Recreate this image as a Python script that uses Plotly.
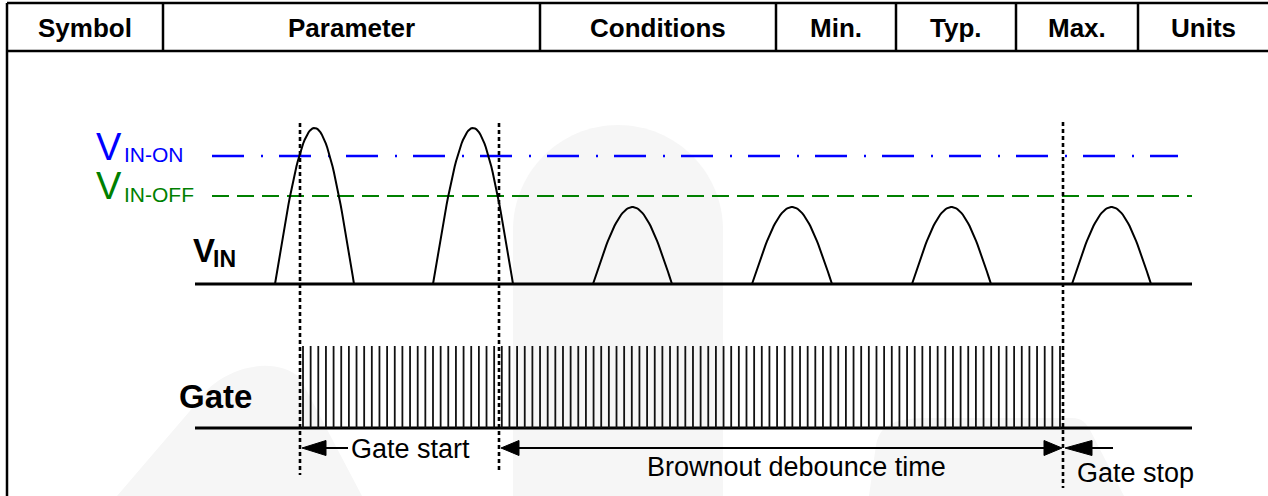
import numpy as np
import plotly.graph_objects as go

W, H = 1268, 496
FONT = "Liberation Sans, Arial, sans-serif"

# ---- table header ----
header_labels = ["Symbol", "Parameter", "Conditions", "Min.", "Typ.", "Max.", "Units"]
column_edges = [7, 163, 540, 776, 896, 1016, 1138, 1268]
header_top, header_bottom = 3, 51

# ---- V_IN waveform (time axis in drawing units) ----
vin_pulse_start = [275, 433, 593, 752, 912, 1072]
vin_pulse_end = [354, 513, 672, 832, 991, 1151]
vin_pulse_peak = [128, 128, 207, 207, 207, 207]
vin_baseline = 284
trace_x = [195, 1192]

# ---- thresholds ----
vin_on_level = 156
vin_off_level = 196
vin_on_x = [212, 1178]
vin_off_x = [212, 1192]

# ---- gate drive ----
gate_baseline = 428
gate_high = 346
gate_first_edge = 303
gate_last_edge = 1060
gate_pulse_count = 100

# ---- event markers (dotted) ----
marker_x = [300, 499, 1063]
marker_top = [123, 123, 122]
marker_bottom = [475, 472, 488]

# ---- timing arrows: (tip_left, tip_right, head_left, head_right, head_len) ----
arrow_y = 448
arrow_defs = [
    (302, 348, True, False, 24),
    (501, 1062, True, True, 18),
    (1065, 1113, True, False, 27),
]
arrow_labels = ["Gate start", "Brownout debounce time", "Gate stop"]
arrow_label_x = [349, 796, 1135]
arrow_label_y = [449, 467, 473]
arrow_label_anchor = ["left", "center", "center"]

fig = go.Figure()

# background watermark shapes
wm = "#f6f6f6"
shapes = [
    dict(type="path", layer="below", fillcolor=wm, line=dict(width=0),
         path="M 513,496 L 513,230 C 513,172 560,125 618,125 C 676,125 723,172 723,230 L 723,496 Z"),
    dict(type="path", layer="below", fillcolor=wm, line=dict(width=0),
         path="M 117,496 L 195,405 C 220,365 275,355 300,378 L 362,496 Z"),
    dict(type="path", layer="below", fillcolor=wm, line=dict(width=0),
         path="M 869,496 L 876,445 C 880,422 900,418 930,418 L 1072,418 C 1082,418 1086,423 1090,430 L 1124,496 Z"),
]

# table lines
lw_tab = 2.5
shapes.append(dict(type="line", x0=column_edges[0], x1=W, y0=header_top, y1=header_top,
                   line=dict(color="black", width=lw_tab)))
shapes.append(dict(type="line", x0=column_edges[0], x1=W, y0=header_bottom, y1=header_bottom,
                   line=dict(color="black", width=lw_tab)))
shapes.append(dict(type="line", x0=column_edges[0], x1=column_edges[0], y0=header_top, y1=H,
                   line=dict(color="black", width=lw_tab)))
for xe in column_edges[1:-1]:
    shapes.append(dict(type="line", x0=xe, x1=xe, y0=header_top, y1=header_bottom,
                       line=dict(color="black", width=lw_tab)))

annotations = []
for i, lab in enumerate(header_labels):
    xc = (column_edges[i] + column_edges[i + 1]) / 2
    annotations.append(dict(x=xc, y=28, text="<b>%s</b>" % lab, showarrow=False,
                            xanchor="center", yanchor="middle",
                            font=dict(family=FONT, size=26, color="black")))

# threshold lines
fig.add_trace(go.Scatter(x=vin_on_x, y=[vin_on_level] * 2, mode="lines",
                         line=dict(color="#0000ff", width=2.5, dash="32px,17px,2px,16px"),
                         hoverinfo="skip"))
fig.add_trace(go.Scatter(x=vin_off_x, y=[vin_off_level] * 2, mode="lines",
                         line=dict(color="#008000", width=2.2, dash="17px,8px"),
                         hoverinfo="skip"))

# V_IN baseline and pulses
fig.add_trace(go.Scatter(x=trace_x, y=[vin_baseline] * 2, mode="lines",
                         line=dict(color="black", width=3), hoverinfo="skip"))
px, py = [], []
for s, e, pk in zip(vin_pulse_start, vin_pulse_end, vin_pulse_peak):
    t = np.linspace(0, 1, 60)
    px += list(s + (e - s) * t) + [None]
    py += list(vin_baseline - (vin_baseline - pk) * np.sin(np.pi * t)) + [None]
fig.add_trace(go.Scatter(x=px, y=py, mode="lines", line=dict(color="black", width=2),
                         hoverinfo="skip"))

# Gate baseline and pulse train
fig.add_trace(go.Scatter(x=trace_x, y=[gate_baseline] * 2, mode="lines",
                         line=dict(color="black", width=3), hoverinfo="skip"))
edges = np.linspace(gate_first_edge, gate_last_edge, gate_pulse_count)
gx, gy = [], []
for xe in edges:
    gx += [xe, xe, None]
    gy += [gate_baseline, gate_high, None]
fig.add_trace(go.Scatter(x=gx, y=gy, mode="lines", line=dict(color="#111111", width=1.8),
                         hoverinfo="skip"))

# dotted event markers
for xm, t0, t1 in zip(marker_x, marker_top, marker_bottom):
    fig.add_trace(go.Scatter(x=[xm, xm], y=[t0, t1], mode="lines",
                             line=dict(color="black", width=2.6, dash="4px,3px"),
                             hoverinfo="skip"))

# arrows
half_h = 7.5
for (xl, xr, hl, hr, hlen) in arrow_defs:
    fig.add_trace(go.Scatter(x=[xl + (hlen if hl else 0), xr - (hlen if hr else 0)],
                             y=[arrow_y, arrow_y], mode="lines",
                             line=dict(color="black", width=2), hoverinfo="skip"))
    if hl:
        fig.add_trace(go.Scatter(x=[xl, xl + hlen, xl + hlen, xl],
                                 y=[arrow_y, arrow_y - half_h, arrow_y + half_h, arrow_y],
                                 mode="lines", fill="toself", fillcolor="black",
                                 line=dict(color="black", width=1), hoverinfo="skip"))
    if hr:
        fig.add_trace(go.Scatter(x=[xr, xr - hlen, xr - hlen, xr],
                                 y=[arrow_y, arrow_y - half_h, arrow_y + half_h, arrow_y],
                                 mode="lines", fill="toself", fillcolor="black",
                                 line=dict(color="black", width=1), hoverinfo="skip"))

for lab, xa, ya, anc in zip(arrow_labels, arrow_label_x, arrow_label_y, arrow_label_anchor):
    annotations.append(dict(x=xa, y=ya, text=lab, showarrow=False, xanchor=anc,
                            yanchor="middle", font=dict(family=FONT, size=27, color="black")))

# signal labels
def lab(x, y, txt, size, color, bold=False):
    annotations.append(dict(x=x, y=y, text=("<b>%s</b>" % txt) if bold else txt,
                            showarrow=False, xanchor="left", yanchor="middle",
                            font=dict(family=FONT, size=size, color=color)))

lab(94, 147, "V", 38, "#0000ff")
lab(122, 154, "IN-ON", 21, "#0000ff")
lab(94, 186, "V", 38, "#008000")
lab(122, 194, "IN-OFF", 21, "#008000")
lab(191, 250, "V", 33, "black", bold=True)
lab(211, 259, "IN", 23, "black", bold=True)
lab(177, 396, "Gate", 33, "black", bold=True)

fig.update_layout(
    width=W, height=H, margin=dict(l=0, r=0, t=0, b=0),
    paper_bgcolor="white", plot_bgcolor="white", showlegend=False,
    xaxis=dict(range=[0, W], visible=False, fixedrange=True),
    yaxis=dict(range=[H, 0], visible=False, fixedrange=True),
    shapes=shapes, annotations=annotations,
)

fig.write_html("out.html", config={"displayModeBar": False},
               post_script="document.body.style.margin='0';document.body.style.overflow='hidden';")
